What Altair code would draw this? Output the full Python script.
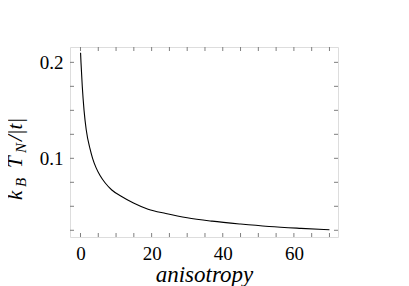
import altair as alt
import pandas as pd

# curve
anisotropy = [0.02, 0.14, 0.5, 1.0, 1.6, 2.67, 3.4, 4.4, 5.5, 6.9, 8.8, 11.2, 14.9, 19, 24, 30, 37, 45, 53, 62, 70]
kbtn = [0.210, 0.200, 0.175, 0.150, 0.130, 0.110, 0.100, 0.090, 0.082, 0.0745, 0.067, 0.061, 0.0535,
        0.047, 0.0425, 0.038, 0.0345, 0.0315, 0.029, 0.027, 0.0255]

x_labels = [0, 20, 40, 60]
y_labels = [0.1, 0.2]
x_minor = [0, 5, 10, 15, 20, 25, 30, 35, 40, 45, 50, 55, 60, 65, 70]
y_minor = [0.025, 0.05, 0.075, 0.1, 0.125, 0.15, 0.175, 0.2]

W, H = 268, 190
FONT = "Liberation Serif, Times New Roman, DejaVu Serif, serif"
FRAME = "#7f7f7f"

xs = alt.Scale(domain=[-2.95, 72.4], nice=False, zero=False)
ys = alt.Scale(domain=[0.018, 0.216], nice=False, zero=False)

df = pd.DataFrame({"a": anisotropy, "k": kbtn})
dx = pd.DataFrame({"v": x_minor})
dy = pd.DataFrame({"v": y_minor})

line = alt.Chart(df).mark_line(color="black", strokeWidth=1.1, interpolate="monotone").encode(
    x=alt.X("a:Q", scale=xs, axis=alt.Axis(values=x_labels, ticks=False, domain=False, grid=False,
                                           title="anisotropy", titleFont=FONT, titleFontSize=23,
                                           titleFontStyle="italic", titleFontWeight="normal",
                                           titleColor="black", titlePadding=0,
                                           labelFont=FONT, labelFontSize=19, labelColor="black",
                                           labelPadding=7, labelFlush=False)),
    y=alt.Y("k:Q", scale=ys, axis=alt.Axis(values=y_labels, format=".1f", ticks=False, domain=False,
                                           grid=False, title=None,
                                           labelFont=FONT, labelFontSize=19, labelColor="black",
                                           labelPadding=7, labelFlush=False)),
)

tick_style = dict(color=FRAME, strokeWidth=1)
xt_top = alt.Chart(dx).mark_rule(**tick_style).encode(
    x=alt.X("v:Q", scale=xs), y=alt.value(0), y2=alt.value(4))
xt_bot = alt.Chart(dx).mark_rule(**tick_style).encode(
    x=alt.X("v:Q", scale=xs), y=alt.value(H), y2=alt.value(H - 4))
yt_left = alt.Chart(dy).mark_rule(**tick_style).encode(
    y=alt.Y("v:Q", scale=ys), x=alt.value(0), x2=alt.value(4))
yt_right = alt.Chart(dy).mark_rule(**tick_style).encode(
    y=alt.Y("v:Q", scale=ys), x=alt.value(W), x2=alt.value(W - 4))

def piece(txt, x, y, size):
    return alt.Chart(pd.DataFrame({"t": [txt]})).mark_text(
        font=FONT, fontSize=size, fontStyle="italic", angle=270, align="left",
        baseline="alphabetic", color="black").encode(
        x=alt.value(x), y=alt.value(y), text="t:N")

ytitle = [
    piece("k", -48, 153, 21),
    piece("B", -44, 140, 15),
    piece("T", -48, 121, 21),
    piece("N", -44, 106, 15),
    piece("/|t|", -48, 94, 21),
]

chart = alt.layer(line, xt_top, xt_bot, yt_left, yt_right, *ytitle).properties(
    width=W, height=H,
    autosize=alt.AutoSizeParams(type="none"),
    padding={"left": 62, "top": 39, "right": 63, "bottom": 49},
).configure_view(stroke=FRAME, strokeWidth=1).configure(background="white")

chart.save("out.html", embed_options={"renderer": "svg", "actions": False})
